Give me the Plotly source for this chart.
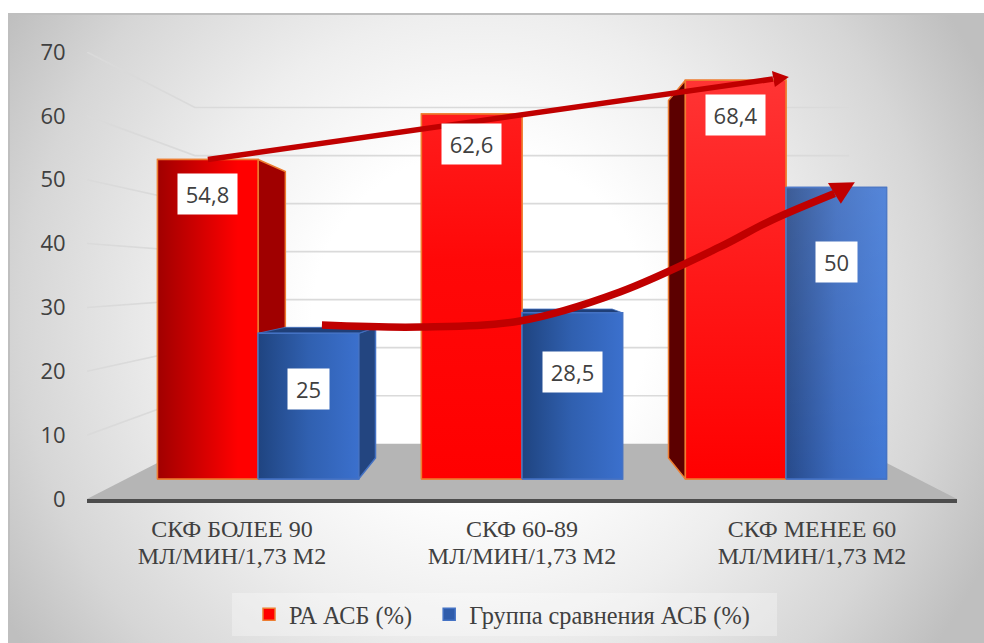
import base64
import plotly.graph_objects as go

# Chart data
categories = ["СКФ БОЛЕЕ 90<br>МЛ/МИН/1,73 М2", "СКФ 60-89<br>МЛ/МИН/1,73 М2", "СКФ МЕНЕЕ 60<br>МЛ/МИН/1,73 М2"]
series_ra_name = "РА АСБ (%)"
series_cmp_name = "Группа сравнения АСБ (%)"
ra_values = [54.8, 62.6, 68.4]
cmp_values = [25, 28.5, 50]
y_ticks = [0, 10, 20, 30, 40, 50, 60, 70]

# Trend arrows, in units of the bar axes
upper_trend_x = [-0.19, 1.951]
upper_trend_y = [54.8, 68.6]
upper_head_x = [2.011, 1.947, 1.958]
upper_head_y = [68.95, 69.98, 67.24]
lower_trend_x = [0.242, 0.614, 0.992, 1.371, 1.75, 1.939, 2.184]
lower_trend_y = [26.4, 26.07, 27.1, 32.08, 39.8, 44.25, 48.97]
lower_head_x = [2.261, 2.159, 2.208]
lower_head_y = [50.9, 50.75, 47.2]

W, H = 984, 643
BAR_W = 0.381
ORANGE = "#ed7d31"
BLUE_EDGE = "#4472c4"

# One-point perspective: wall and bar depth scale towards the same vanishing point
WALL_K, WALL_EYE_Y = 0.752, 34.92
BAR_K, BAR_EYE_Y = 0.8966, 34.82


def wall(x, y):
    return 1 + (x - 1) * WALL_K, WALL_EYE_Y + (y - WALL_EYE_Y) * WALL_K


def depth(x, y):
    return 1 + (x - 1) * BAR_K, BAR_EYE_Y + (y - BAR_EYE_Y) * BAR_K


backdrop_svg = f"""<svg xmlns='http://www.w3.org/2000/svg' width='{W}' height='{H}' viewBox='0 0 {W} {H}'>
<defs><radialGradient id='g' gradientUnits='userSpaceOnUse' cx='480' cy='320' r='560'>
<stop offset='0.3' stop-color='#ffffff'/><stop offset='0.55' stop-color='#eeeeee'/>
<stop offset='0.82' stop-color='#d6d6d6'/><stop offset='1' stop-color='#bfbfbf'/>
</radialGradient></defs>
<rect x='0' y='0' width='{W}' height='{H}' fill='#ffffff'/>
<rect x='9' y='14' width='{W}' height='{H}' fill='url(#g)' stroke='#bfbfbf' stroke-width='2'/>
</svg>"""
backdrop = "data:image/svg+xml;base64," + base64.b64encode(backdrop_svg.encode()).decode()

fig = go.Figure()


def poly(xs, ys, axes, color=None, line=None, gradient=None, width=1.5):
    kw = dict(fillcolor=color) if color else dict(fillgradient=gradient)
    fig.add_trace(go.Scatter(
        x=list(xs) + [xs[0]], y=list(ys) + [ys[0]], mode="lines", fill="toself",
        line=dict(color=line or "rgba(0,0,0,0)", width=width if line else 0),
        xaxis=axes[0], yaxis=axes[1], showlegend=False, hoverinfo="skip", **kw))


# Floor plane
bl, br = wall(-0.5, 0), wall(2.5, 0)
poly([-0.5, 2.5, br[0], bl[0]], [0, 0, br[1], bl[1]], ("x", "y"), color="#b5b5b5")

# Gridlines: side wall then back wall
for v in y_ticks[1:]:
    l = wall(-0.5, v)
    r = wall(2.5, v)
    fig.add_trace(go.Scatter(
        x=[-0.5, l[0], r[0]], y=[v, l[1], r[1]], mode="lines",
        line=dict(color="#dadada", width=1.6), xaxis="x", yaxis="y",
        showlegend=False, hoverinfo="skip"))

# Actual bars; the first name carries no-break padding to set the legend entry pitch
fig.add_trace(go.Bar(x=[0, 1, 2], y=ra_values, name=series_ra_name + "\u00a0\u00a0", xaxis="x2", yaxis="y2",
                     marker=dict(color="#ff0000", line=dict(color=ORANGE, width=1.5)), hoverinfo="y"))
fig.add_trace(go.Bar(x=[0, 1, 2], y=cmp_values, name=series_cmp_name, xaxis="x2", yaxis="y2",
                     marker=dict(color="#2f5cab", line=dict(color=BLUE_EDGE, width=1.5)), hoverinfo="y"))


def side(x_edge, v, color, line):
    a, b = depth(x_edge, v), depth(x_edge, 0)
    poly([x_edge, a[0], b[0], x_edge], [v, a[1], b[1], 0], ("x2", "y2"), color=color, line=line)


def cap(x0, x1, v, color):
    a, b = depth(x0, v), depth(x1, v)
    poly([x0, a[0], b[0], x1], [v, a[1], b[1], v], ("x2", "y2"), color=color, line=BLUE_EDGE, width=0.8)


def front(x0, x1, v, gradient, line):
    poly([x0, x1, x1, x0], [0, 0, v, v], ("x2", "y2"), gradient=gradient, line=line)


hred = dict(type="horizontal", colorscale=[[0, "#a00000"], [0.8, "#ff0000"], [1, "#ff0000"]])
vred2 = dict(type="vertical", colorscale=[[0, "#ff0000"], [0.6, "#ff0808"], [1, "#ff1c1c"]])
vred3 = dict(type="vertical", colorscale=[[0, "#ff0000"], [0.5, "#ff1818"], [1, "#ff3434"]])
hblue = dict(type="horizontal", colorscale=[[0, "#1f4480"], [0.5, "#3060b0"], [1, "#3b70cd"]])
hblue3 = dict(type="horizontal", colorscale=[[0, "#274a8a"], [0.5, "#3a69bd"], [1, "#4279d6"]])
vsheen = dict(type="vertical", colorscale=[[0, "rgba(255,255,255,0)"], [1, "rgba(255,255,255,0.1)"]])

# Group 1
side(0, ra_values[0], "#a00000", ORANGE)
front(-BAR_W, 0, ra_values[0], hred, ORANGE)
side(BAR_W, cmp_values[0], "#234580", BLUE_EDGE)
cap(0, BAR_W, cmp_values[0], "#1f3f78")
front(0, BAR_W, cmp_values[0], hblue, BLUE_EDGE)

# Group 2
cap(1, 1 + BAR_W, cmp_values[1], "#1f3f78")
front(1 - BAR_W, 1, ra_values[1], vred2, ORANGE)
front(1, 1 + BAR_W, cmp_values[1], hblue, BLUE_EDGE)

# Group 3
side(2 - BAR_W, ra_values[2], "#5c0000", ORANGE)
front(2 - BAR_W, 2, ra_values[2], vred3, ORANGE)
front(2, 2 + BAR_W, cmp_values[2], hblue3, BLUE_EDGE)
poly([2, 2 + BAR_W, 2 + BAR_W, 2], [0, 0, cmp_values[2], cmp_values[2]], ("x2", "y2"), gradient=vsheen)

# Trend arrows
DARK_RED = "#c00000"
fig.add_trace(go.Scatter(x=upper_trend_x, y=upper_trend_y, mode="lines", xaxis="x2", yaxis="y2",
                         line=dict(color=DARK_RED, width=5.5), showlegend=False, hoverinfo="skip"))
poly(upper_head_x, upper_head_y, ("x2", "y2"), color=DARK_RED)
fig.add_trace(go.Scatter(x=lower_trend_x, y=lower_trend_y, mode="lines", xaxis="x2", yaxis="y2",
                         line=dict(color=DARK_RED, width=7.5, shape="spline", smoothing=1),
                         showlegend=False, hoverinfo="skip"))
poly(lower_head_x, lower_head_y, ("x2", "y2"), color=DARK_RED)


def value_label(x, v, drop, width):
    fig.add_annotation(x=x, y=v, xref="x2", yref="y2", yshift=-drop, showarrow=False,
                       text=f"{v}".replace(".", ","), width=width, align="center",
                       bgcolor="#ffffff", borderpad=5,
                       font=dict(family="Open Sans", size=22, color="#404040"))


for i, (v, drop) in enumerate(zip(ra_values, (34, 30, 35))):
    value_label(i - BAR_W / 2, v, drop, 49)
for i, (v, drop) in enumerate(zip(cmp_values, (56, 59, 75))):
    value_label(i + BAR_W / 2, v, drop, 49 if v % 1 else 31)

# Legend backing panel
fig.add_shape(type="rect", xref="paper", yref="paper", x0=232 / W, x1=777 / W,
              y0=1 - 636 / H, y1=1 - 593 / H, fillcolor="rgba(255,255,255,0.3)",
              line_width=0, layer="below")

# Tick text keeps a 24px glyph size on a tighter line pitch than the axis font would give
tick_text = ["<br>".join(f'<span style="font-size:24px">{part}</span>' for part in c.split("<br>"))
             for c in categories]

fig.update_layout(
    width=W, height=H, margin=dict(l=0, r=0, t=0, b=0, pad=0, autoexpand=False),
    paper_bgcolor="#ffffff", plot_bgcolor="rgba(0,0,0,0)",
    barmode="group", bargap=0.239, bargroupgap=0,
    hovermode=False,
    images=[dict(source=backdrop, xref="paper", yref="paper", x=0, y=1, sizex=1, sizey=1,
                 sizing="stretch", layer="below", xanchor="left", yanchor="top")],
    xaxis=dict(domain=[87 / W, 957 / W], range=[-0.5, 2.5], tickmode="array",
               tickvals=[0, 1, 2], ticktext=tick_text,
               ticks="outside", ticklen=9, tickcolor="rgba(0,0,0,0)",
               showline=True, linecolor="#4d4d4d", linewidth=3.5, showgrid=False, zeroline=False,
               tickfont=dict(family="Liberation Serif", size=20.8, color="#404040")),
    yaxis=dict(domain=[1 - 499 / H, 1 - 52 / H], range=[0, 70], tickmode="array",
               tickvals=y_ticks, ticks="outside", ticklen=16, tickcolor="rgba(0,0,0,0)",
               showline=False, showgrid=False, zeroline=False,
               tickfont=dict(family="Open Sans", size=22, color="#404040")),
    xaxis2=dict(domain=[87 / W, 957 / W], range=[-0.648, 2.648], overlaying="x", visible=False),
    yaxis2=dict(domain=[1 - 499 / H, 1 - 52 / H], range=[-3.43, 73.24], overlaying="y", visible=False),
    legend=dict(orientation="h", x=249 / W, y=1 - 592 / H, xanchor="left", yanchor="top",
                bgcolor="rgba(0,0,0,0)",
                font=dict(family="Liberation Serif", size=24.3, color="#404040")),
)

fig.write_html("out.html")
